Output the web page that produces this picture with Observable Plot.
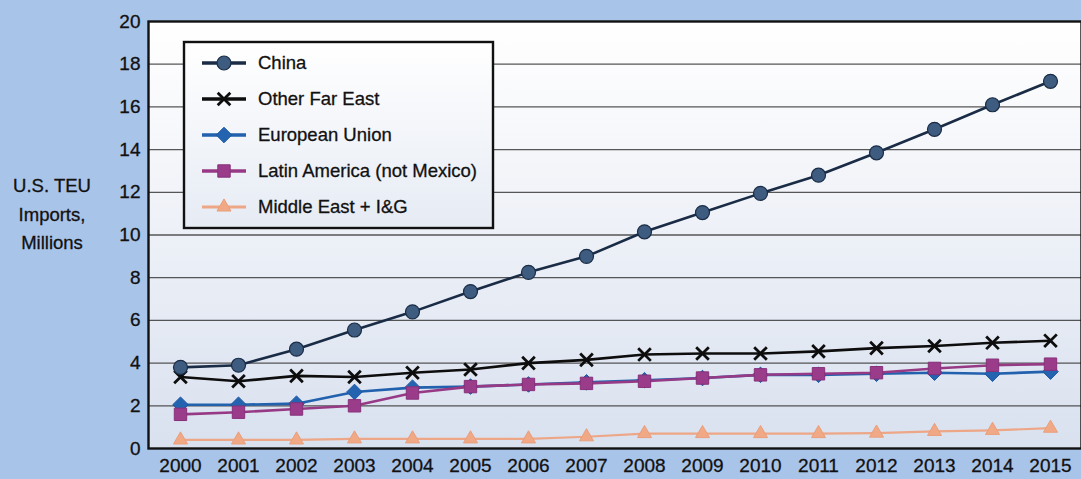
<!DOCTYPE html>
<html>
<head>
<meta charset="utf-8">
<script src="https://cdn.jsdelivr.net/npm/d3@7"></script>
<script src="https://cdn.jsdelivr.net/npm/@observablehq/plot@0.6"></script>
<style>
  html, body { margin: 0; padding: 0; }
  body {
    width: 1081px; height: 479px; overflow: hidden;
    background: #a9c4e9;
    font-family: "Liberation Sans", Arial, sans-serif;
    position: relative;
  }
  #ytitle {
    position: absolute; left: 0; top: 172px; width: 104px;
    text-align: center; font-size: 18.5px; line-height: 28.5px; color: #111;
    -webkit-text-stroke: 0.3px #111;
  }
  #chart { position: absolute; left: 0; top: 0; }
  svg text { fill: #111; stroke: #111; stroke-width: 0.3px; }
</style>
</head>
<body>
<div id="ytitle">U.S. TEU<br>Imports,<br>Millions</div>
<div id="chart"></div>
<script>
// U.S. containerized imports (TEU, millions) by region of origin
const years = ["2000","2001","2002","2003","2004","2005","2006","2007","2008","2009","2010","2011","2012","2013","2014","2015"];
const yTicks = [0, 2, 4, 6, 8, 10, 12, 14, 16, 18, 20];

const china        = [3.8, 3.9, 4.65, 5.55, 6.4, 7.35, 8.25, 9.0, 10.15, 11.05, 11.95, 12.8, 13.85, 14.95, 16.1, 17.2];
const otherFarEast = [3.35, 3.15, 3.4, 3.35, 3.55, 3.7, 4.0, 4.15, 4.4, 4.45, 4.45, 4.55, 4.7, 4.8, 4.95, 5.05];
const europeanUnion = [2.05, 2.05, 2.1, 2.65, 2.85, 2.9, 3.0, 3.1, 3.2, 3.3, 3.45, 3.45, 3.5, 3.55, 3.5, 3.6];
const latinAmerica = [1.6, 1.7, 1.85, 2.0, 2.6, 2.9, 3.0, 3.05, 3.15, 3.3, 3.45, 3.5, 3.55, 3.75, 3.9, 3.95];
const middleEast   = [0.4, 0.4, 0.4, 0.45, 0.45, 0.45, 0.45, 0.55, 0.7, 0.7, 0.7, 0.7, 0.72, 0.8, 0.85, 0.95];

const seriesNames = ["China", "Other Far East", "European Union", "Latin America (not Mexico)", "Middle East + I&G"];
const seriesValues = [china, otherFarEast, europeanUnion, latinAmerica, middleEast];

// Drawing style for each series
const styles = {
  "China":                      {line: "#1a2c45", width: 2.6, symbol: "circle",   r: 7,   fill: "#3e5b80", stroke: "#1a2c45", sw: 1.2},
  "Other Far East":             {line: "#0d0d0d", width: 2.6, symbol: "times",    r: 5.8, fill: "none",    stroke: "#0d0d0d", sw: 2.8},
  "European Union":             {line: "#2261ad", width: 2.6, symbol: "diamond2", r: 7,   fill: "#2463b0", stroke: "#1d56a0", sw: 1},
  "Latin America (not Mexico)": {line: "#973a86", width: 2.6, symbol: "square",   r: 7,   fill: "#9b3c8a", stroke: "#86317a", sw: 1},
  "Middle East + I&G":          {line: "#eda686", width: 2.2, symbol: "triangle", r: 5.2, fill: "#f1a985", stroke: "#e99e7b", sw: 1}
};

const rows = seriesNames.flatMap((name, i) =>
  years.map((year, j) => ({series: name, year, value: seriesValues[i][j]}))
);

// drawing order: lighter series underneath, China on top
const drawOrder = ["Middle East + I&G", "European Union", "Latin America (not Mexico)", "Other Far East", "China"];
const seriesMarks = drawOrder.flatMap(name => {
  const s = styles[name];
  const data = rows.filter(d => d.series === name);
  return [
    Plot.line(data, {x: "year", y: "value", stroke: s.line, strokeWidth: s.width}),
    Plot.dot(data, {x: "year", y: "value", symbol: () => s.symbol, r: s.r, fill: s.fill, stroke: s.stroke, strokeWidth: s.sw})
  ];
});

const chart = Plot.plot({
  width: 1081,
  height: 479,
  marginLeft: 148,
  marginRight: 0,
  marginTop: 21,
  marginBottom: 31,
  style: {background: "transparent", fontFamily: "'Liberation Sans', Arial, sans-serif", fontSize: "19px", color: "#111"},
  x: {type: "point", domain: years, padding: 0.5, label: null},
  y: {domain: [0, 20], label: null},
  symbol: {type: "identity"},
  marks: [
    Plot.frame({fill: "url(#plotBg)", stroke: null}),
    Plot.gridY(yTicks.filter(t => t > 0 && t < 20), {stroke: "#3a3a3a", strokeOpacity: 0.85, strokeWidth: 1.3}),
    Plot.frame({stroke: "#111", strokeWidth: 2.4}),
    Plot.axisY(yTicks, {tickSize: 0, tickPadding: 8, fontSize: 19}),
    Plot.axisX({tickSize: 0, tickPadding: 10, fontSize: 19}),
    ...seriesMarks
  ]
});

document.getElementById("chart").appendChild(chart);

const svg = d3.select(chart);
const defs = svg.insert("defs", ":first-child");
const grad = defs.append("linearGradient").attr("id", "plotBg").attr("x1", 0).attr("y1", 0).attr("x2", 0).attr("y2", 1);
grad.append("stop").attr("offset", "0%").attr("stop-color", "#ffffff");
grad.append("stop").attr("offset", "25%").attr("stop-color", "#f7f8fb");
grad.append("stop").attr("offset", "100%").attr("stop-color", "#d9e1ef");
const lgrad = defs.append("linearGradient").attr("id", "legendBg").attr("x1", 0).attr("y1", 0).attr("x2", 0).attr("y2", 1);
lgrad.append("stop").attr("offset", "0%").attr("stop-color", "#ffffff");
lgrad.append("stop").attr("offset", "100%").attr("stop-color", "#e6ebf4");

// Legend box in the upper-left of the plot area
const legend = svg.append("g").attr("transform", "translate(184,42)").attr("text-anchor", "start");
legend.append("rect").attr("width", 309).attr("height", 186)
  .attr("fill", "url(#legendBg)").attr("stroke", "#111").attr("stroke-width", 2.4);

const symbolTypes = {circle: d3.symbolCircle, times: d3.symbolTimes, diamond2: d3.symbolDiamond2, square: d3.symbolSquare, triangle: d3.symbolTriangle};
seriesNames.forEach((name, i) => {
  const s = styles[name];
  const g = legend.append("g").attr("transform", `translate(0,${21 + i * 36})`);
  g.append("line").attr("x1", 18).attr("x2", 62).attr("y1", 0).attr("y2", 0)
    .attr("stroke", s.line).attr("stroke-width", s.width + 1);
  g.append("path").attr("transform", "translate(40,0)")
    .attr("d", d3.symbol(symbolTypes[s.symbol], Math.PI * s.r * s.r)())
    .attr("fill", s.fill).attr("stroke", s.stroke).attr("stroke-width", s.sw);
  g.append("text").attr("x", 74).attr("y", 0).attr("dy", "0.35em")
    .attr("font-size", 18.5).text(name);
});
</script>
</body>
</html>
